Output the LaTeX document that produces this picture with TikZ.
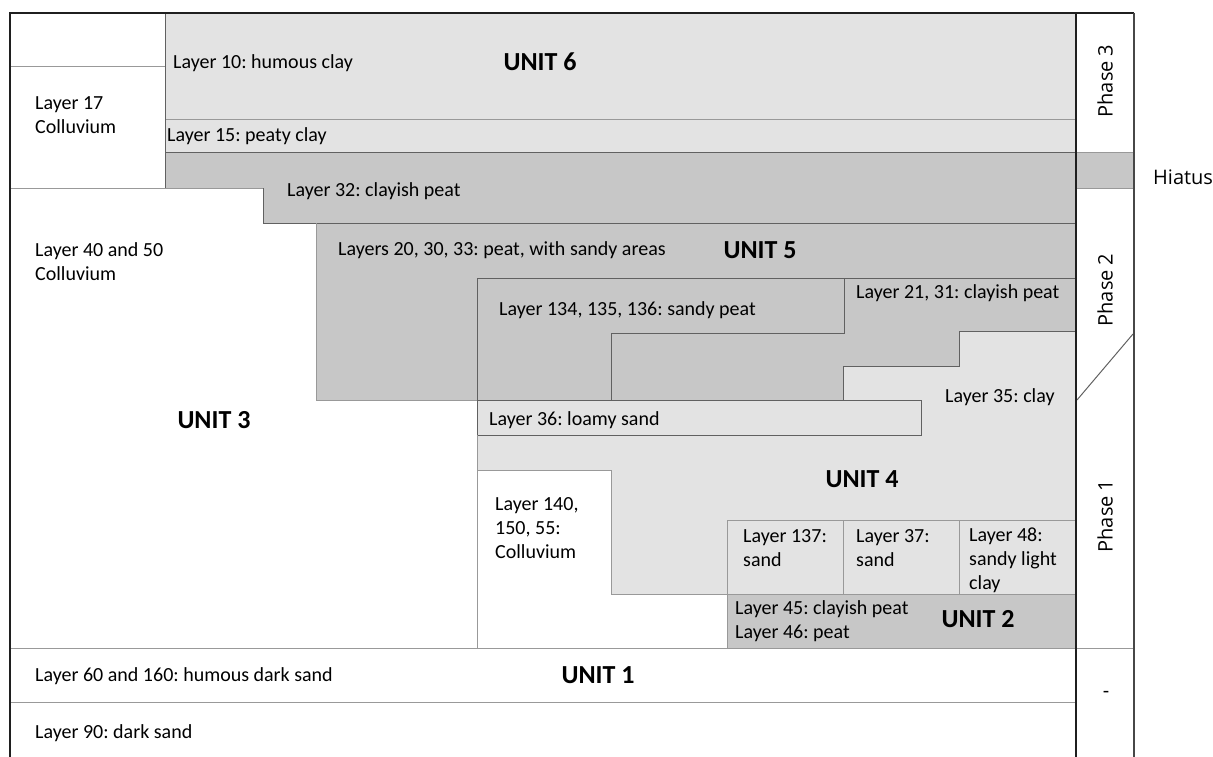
\documentclass[tikz,border=0pt]{standalone}
\usepackage{fontspec}
\setmainfont{Carlito}
\newfontfamily\phasefont{Open Sans}
\usetikzlibrary{positioning}
\frenchspacing

\begin{document}
\begin{tikzpicture}
  [x=1pt,y=-1pt,
  every node/.style={inner sep=0pt,font=\fontsize{20}{24}\selectfont},
  lbl/.style={anchor=west,align=left},
  unit/.style={font=\fontsize{26}{30}\selectfont\bfseries},
  phase/.style={font=\phasefont\fontsize{20}{24}\selectfont},
  light/.style={fill=black!11},
  dark/.style={fill=black!22},
  seam/.style={draw=black!40,line width=1pt},
  rim/.style={draw=black!62,line width=1pt},
  outline/.style={draw=black!88,line width=2pt}]
  \useasboundingbox (0,0) rectangle (1213,757);

  \fill[light] (165,13) rectangle (1076,153);
  \fill[dark] (165,153) -- (1076,153) -- (1076,331) -- (959,331) -- (959,366) -- (843,366)
    -- (843,400) -- (316,400) -- (316,223) -- (263,223) -- (263,188) -- (165,188) -- cycle;
  \fill[dark] (1076,153) rectangle (1134,188);
  \fill[light] (477,400) -- (843,400) -- (843,366) -- (959,366) -- (959,331) -- (1076,331)
    -- (1076,594) -- (611,594) -- (611,470) -- (477,470) -- cycle;
  \fill[dark] (727,594) rectangle (1076,648);

  \draw[seam] (10,67) -- (165,67);
  \draw[seam] (165,120) -- (1076,120);
  \draw[seam] (10,188) -- (263,188);
  \draw[rim] (165,13) -- (165,188);
  \draw[rim] (165,153) -- (1076,153);
  \draw[rim] (263,188) -- (263,223) -- (1076,223);
  \draw[seam] (316,223) -- (316,400) -- (477,400);
  \draw[rim] (477,400) -- (477,278) -- (1076,278);
  \draw[rim] (844,278) -- (844,333) -- (611,333) -- (611,400);
  \draw[rim] (843,400) -- (843,366) -- (959,366) -- (959,331) -- (1076,331);
  \draw[rim] (477,400) rectangle (921,435);
  \draw[seam] (477,435) -- (477,648);
  \draw[seam] (477,470) -- (611,470) -- (611,594) -- (1076,594);
  \draw[seam] (727,520) -- (1076,520);
  \draw[seam] (727,520) -- (727,648);
  \draw[seam] (843,520) -- (843,594) (959,520) -- (959,594);
  \draw[seam] (10,648) -- (1134,648);
  \draw[seam] (10,702) -- (1076,702);
  \draw[seam] (1076,153) -- (1134,153) (1076,188) -- (1134,188);
  \draw[rim] (1077,400) -- (1133,334);
  \draw[outline] (10,757) -- (10,13) -- (1134,13);
  \draw[draw=black!72,line width=1.5pt] (1134,13) -- (1134,757);
  \draw[outline] (1076,13) -- (1076,757);

  \node[lbl] (l17) at (35,115) {Layer 17\\Colluvium};
  \node[lbl] (l10) at (173,63) {Layer 10: humous clay};
  \node[unit] (u6) at (540,62) {UNIT 6};
  \node[lbl] (l15) at (167,136) {Layer 15: peaty clay};
  \node[lbl] (l32) at (287,191) {Layer 32: clayish peat};
  \node[lbl] (l40) at (35,262) {Layer 40 and 50\\Colluvium};
  \node[lbl] (l20) at (338,250) {Layers 20, 30, 33: peat, with sandy areas};
  \node[unit] (u5) at (760,250) {UNIT 5};
  \node[lbl] (l134) at (499,310) {Layer 134, 135, 136: sandy peat};
  \node[lbl] (l21) at (856,293) {Layer 21, 31: clayish peat};
  \node[lbl] (l35) at (945,397) {Layer 35: clay};
  \node[unit] (u3) at (214,420) {UNIT 3};
  \node[lbl] (l36) at (489,420) {Layer 36: loamy sand};
  \node[unit] (u4) at (862,479) {UNIT 4};
  \node[lbl] (l140) at (495,528) {Layer 140,\\150, 55:\\Colluvium};
  \node[lbl] (l137) at (743,548) {Layer 137:\\sand};
  \node[lbl] (l37) at (856,548) {Layer 37:\\sand};
  \node[lbl] (l48) at (969,560) {Layer 48:\\sandy light\\clay};
  \node[lbl] (l45) at (735,621) {Layer 45: clayish peat\\Layer 46: peat};
  \node[unit] (u2) at (978,619) {UNIT 2};
  \node[lbl] (l60) at (35,676) {Layer 60 and 160: humous dark sand};
  \node[unit] (u1) at (598,675) {UNIT 1};
  \node[lbl] (l90) at (35,733) {Layer 90: dark sand};
  \node[phase,rotate=90] (p3) at (1105,81) {Phase 3};
  \node[phase,rotate=90] (p2) at (1105,290) {Phase 2};
  \node[phase,rotate=90] (p1) at (1105,516) {Phase 1};
  \node[phase] (p0) at (1106,694) {-};
  \node[phase,anchor=west] (hia) at (1153,177) {Hiatus};
\end{tikzpicture}
\end{document}
